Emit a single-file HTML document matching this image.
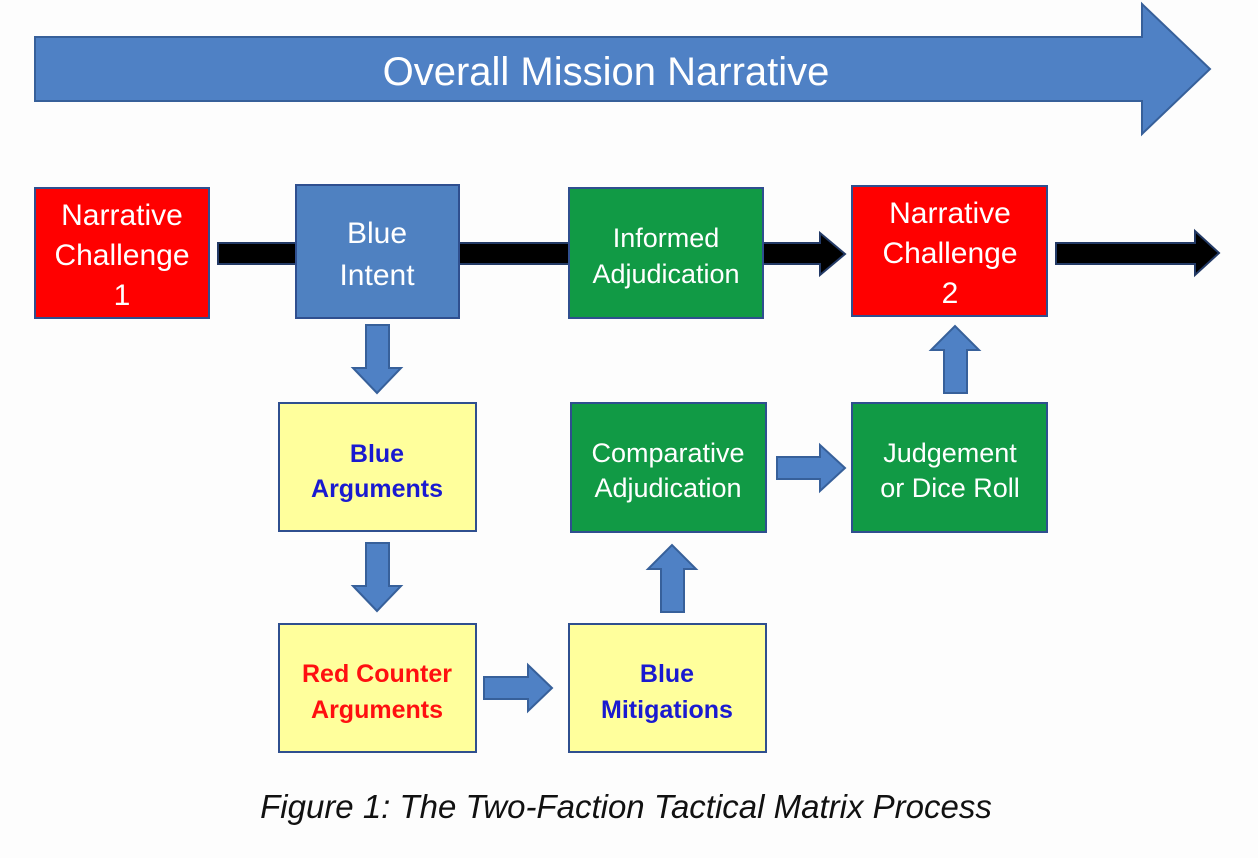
<!DOCTYPE html>
<html><head><style>
html,body{margin:0;padding:0;background:#fff;}
svg{display:block}
text{font-family:"Liberation Sans","DejaVu Sans",sans-serif;}
</style></head><body>
<svg width="1258" height="858" viewBox="0 0 1258 858" xmlns="http://www.w3.org/2000/svg">
<rect width="1258" height="858" fill="#fdfdfd"/>
<polygon points="35,37 1142,37 1142,4 1210,69 1142,134 1142,101 35,101" fill="#4f81c5" stroke="#37609a" stroke-width="2"/>
<text x="606" y="85" font-size="40" fill="#fff" text-anchor="middle">Overall Mission Narrative</text>

<rect x="218" y="243" width="80" height="21" fill="#000" stroke="#233a66" stroke-width="2"/>
<rect x="459" y="243" width="112" height="21" fill="#000" stroke="#233a66" stroke-width="2"/>
<polygon points="763,243 820,243 820,233 845,254 820,275 820,264 763,264" fill="#000" stroke="#233a66" stroke-width="2"/>
<polygon points="1056,243 1195,243 1195,231 1219,253 1195,275 1195,264 1056,264" fill="#000" stroke="#233a66" stroke-width="2"/>

<g fill="#4f81c5" stroke="#37609a" stroke-width="2">
<polygon points="366,325 389,325 389,368 401,368 377,393 353,368 366,368"/>
<polygon points="366,543 389,543 389,586 401,586 377,611 353,586 366,586"/>
<polygon points="484,677 528,677 528,665 552,688 528,711 528,699 484,699"/>
<polygon points="661,612 684,612 684,569 696,569 672,545 648,569 661,569"/>
<polygon points="777,457 820,457 820,445 845,468 820,491 820,479 777,479"/>
<polygon points="944,393 967,393 967,350 979,350 955,326 931,350 944,350"/>
</g>

<g stroke="#2f4f8f" stroke-width="2">
<rect x="35" y="188" width="174" height="130" fill="#ff0000"/>
<rect x="296" y="185" width="163" height="133" fill="#4f81c1"/>
<rect x="569" y="188" width="194" height="130" fill="#119a45"/>
<rect x="852" y="186" width="195" height="130" fill="#ff0000"/>
<rect x="279" y="403" width="197" height="128" fill="#ffff9c"/>
<rect x="571" y="403" width="195" height="129" fill="#119a45"/>
<rect x="852" y="403" width="195" height="129" fill="#119a45"/>
<rect x="279" y="624" width="197" height="128" fill="#ffff9c"/>
<rect x="569" y="624" width="197" height="128" fill="#ffff9c"/>
</g>

<g font-size="30" fill="#fff" text-anchor="middle">
<text x="122" y="225">Narrative</text>
<text x="122" y="265">Challenge</text>
<text x="122" y="305">1</text>
<text x="377" y="243">Blue</text>
<text x="377" y="285">Intent</text>
<text x="666" y="247" font-size="27">Informed</text>
<text x="666" y="283" font-size="27">Adjudication</text>
<text x="950" y="223">Narrative</text>
<text x="950" y="263">Challenge</text>
<text x="950" y="303">2</text>
<text x="668" y="462" font-size="27">Comparative</text>
<text x="668" y="497" font-size="27">Adjudication</text>
<text x="950" y="462" font-size="27">Judgement</text>
<text x="950" y="497" font-size="27">or Dice Roll</text>
</g>
<g font-size="25" font-weight="bold" text-anchor="middle">
<text x="377" y="462" fill="#1a1ad0">Blue</text>
<text x="377" y="497" fill="#1a1ad0">Arguments</text>
<text x="377" y="682" fill="#ff1010">Red Counter</text>
<text x="377" y="718" fill="#ff1010">Arguments</text>
<text x="667" y="682" fill="#1a1ad0">Blue</text>
<text x="667" y="718" fill="#1a1ad0">Mitigations</text>
</g>

<text x="626" y="818" font-size="33" font-style="italic" fill="#111" text-anchor="middle">Figure 1: The Two-Faction Tactical Matrix Process</text>
</svg>
</body></html>
